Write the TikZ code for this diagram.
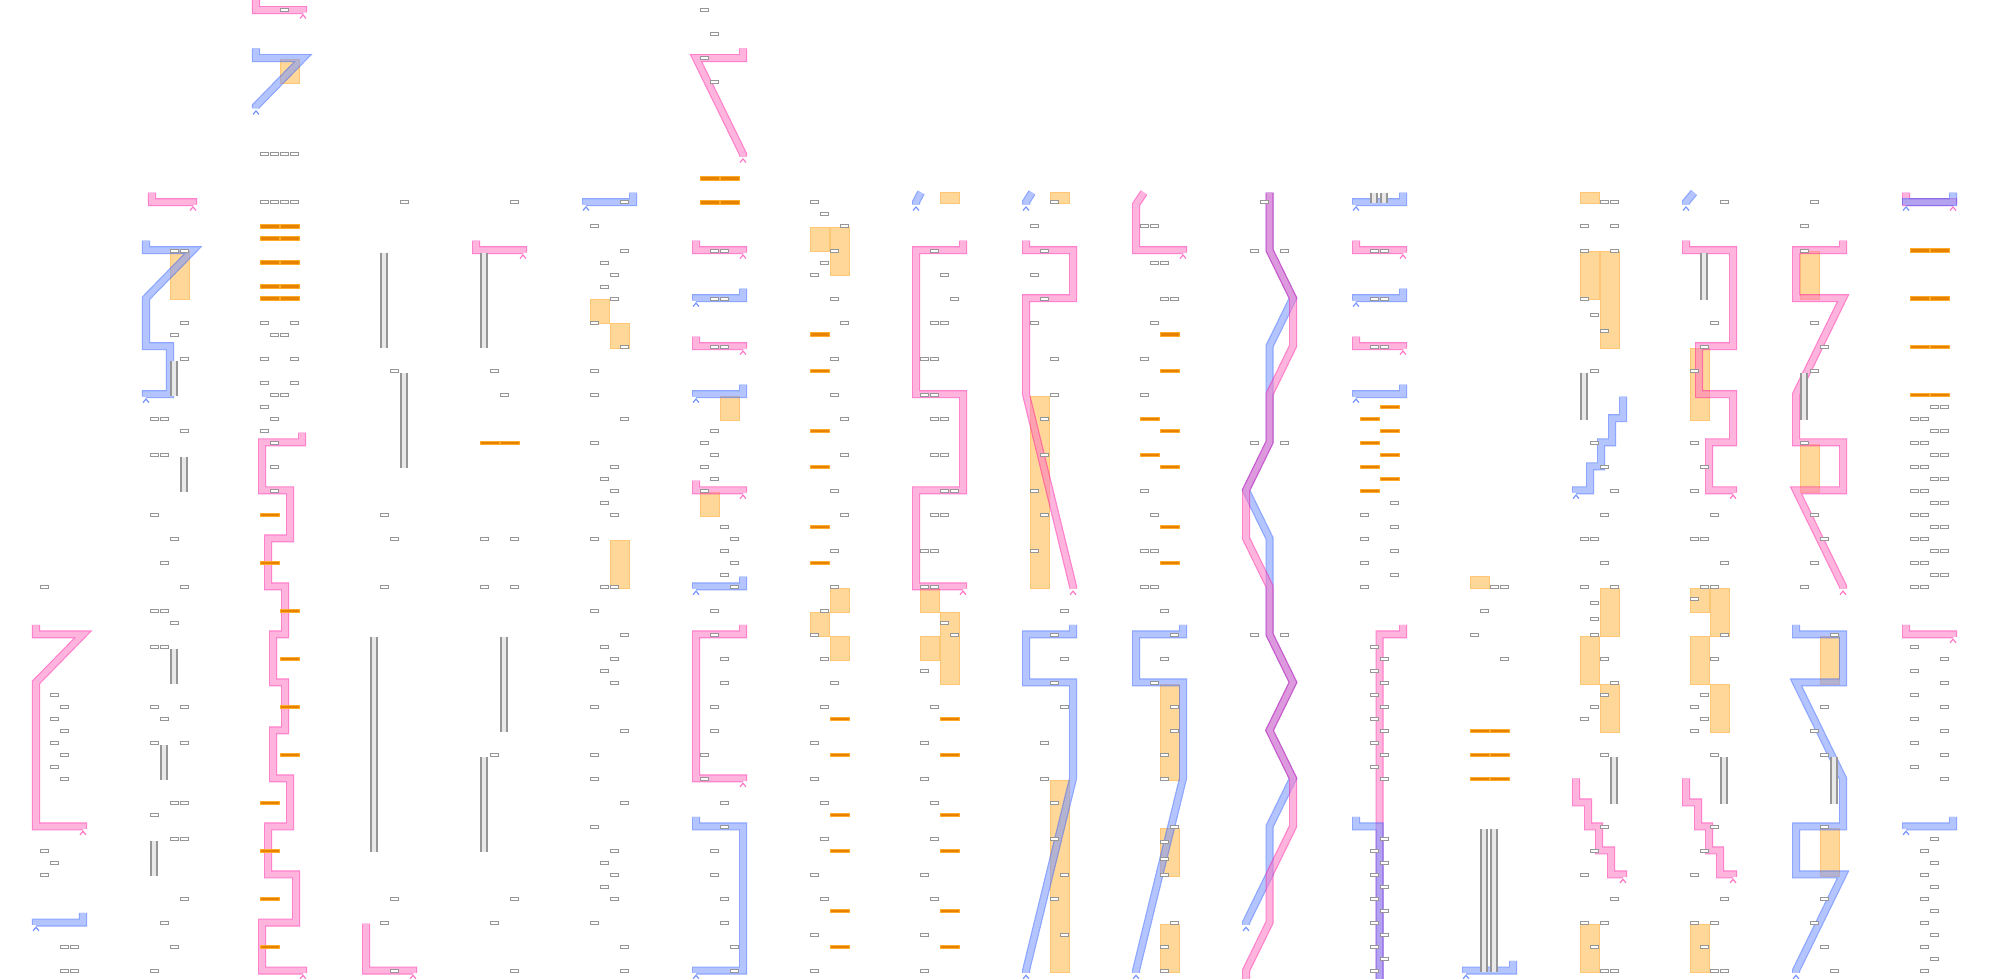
\documentclass[tikz,border=0pt]{standalone}

\definecolor{slotgray}{RGB}{150,150,150}
\definecolor{railgray}{RGB}{150,150,150}
\definecolor{hotfill}{RGB}{232,128,0}
\definecolor{hotedge}{RGB}{255,172,40}
\definecolor{zonefill}{RGB}{255,216,153}
\definecolor{zoneedge}{RGB}{255,198,118}
\definecolor{pinkedgecol}{RGB}{255,24,162}
\definecolor{pinkcorecol}{RGB}{255,119,195}
\definecolor{blueedgecol}{RGB}{46,93,255}
\definecolor{bluecorecol}{RGB}{117,148,255}
\definecolor{pinktipcol}{RGB}{255,120,200}
\definecolor{bluetipcol}{RGB}{120,150,255}

\newcommand{\slot}[2]{\draw[slot] ({8+10*#1},{#2-0.1}) rectangle ++(8.5,0.25);}
\newcommand{\hot}[2]{\draw[hot] ({8+10*#1},{#2-0.1}) rectangle ++(19,0.3);}
\newcommand{\zone}[3]{\draw[zone] ({8+10*#1},{#2+0.15}) rectangle ({27+10*#1},{#3+0.15});}
\newcommand{\rails}[3]{\fill[railfill] ({9+10*#1},{#2+0.2}) rectangle ({15+10*#1},{#3+0.15});
  \draw[rail] ({9+10*#1},{#2+0.2}) -- ({9+10*#1},{#3+0.15}) ({15+10*#1},{#2+0.2}) -- ({15+10*#1},{#3+0.15});}
\newcommand{\route}[2]{\begin{scope}[transparency group, opacity=0.55]
  \draw[#1edge] #2; \draw[#1core] #2; \end{scope}}
\newcommand{\tip}[3]{\draw[#1tip] ({#2-3},{#3+0.7}) -- (#2,{#3+0.4}) -- ({#2+3},{#3+0.7});}

\begin{document}
\begin{tikzpicture}[x=0.01cm, y=-0.12cm,
    slot/.style={draw=slotgray, fill=white, line width=0.09mm},
    hot/.style={draw=hotedge, fill=hotfill, line width=0.1mm},
    zone/.style={draw=zoneedge, fill=zonefill, line width=0.1mm},
    rail/.style={draw=railgray, line width=0.12mm},
    railfill/.style={fill=gray!18},
    pinkedge/.style={draw=pinkedgecol, line width=0.8mm},
    pinkcore/.style={draw=pinkcorecol, line width=0.56mm},
    blueedge/.style={draw=blueedgecol, line width=0.8mm},
    bluecore/.style={draw=bluecorecol, line width=0.56mm},
    pinktip/.style={draw=pinktipcol, line width=0.12mm},
    bluetip/.style={draw=bluetipcol, line width=0.12mm}]

    \useasboundingbox[fill=white] (0,0) rectangle (1990,81.5);
    \clip (0,0) rectangle (1990,81.5);

    \begin{scope}[yshift=-0.1cm]

    \begin{scope}[shift={(32,0)}]
        \route{pink}{(4,51.2) -- (4,52) -- (51,52) -- (4,56) -- (4,68) -- (51,68) -- (51,68.2)}
        \tip{pink}{51}{68}
        \route{blue}{(51,75.2) -- (51,76) -- (4,76) -- (4,76.2)}
        \tip{blue}{4}{76}
        \foreach \s/\k in {0/48,1/57,2/58,1/59,2/60,1/61,2/62,1/63,2/64,0/70,1/71,0/72,2/78,3/78,2/80,3/80} {\slot{\s}{\k}}
    \end{scope}

    \begin{scope}[shift={(142,0)}]
        \zone{2}{20}{24}
        \route{pink}{(10,15.2) -- (10,16) -- (51,16) -- (51,16.2)}
        \tip{pink}{51}{16}
        \route{blue}{(4,19.2) -- (4,20) -- (51,20) -- (4,24) -- (4,28) -- (28,28) -- (28,32) -- (4,32) -- (4,32.2)}
        \tip{blue}{4}{32}
        \rails{2}{29}{32} \rails{3}{37}{40} \rails{2}{53}{56} \rails{1}{61}{64} \rails{0}{69}{72}
        \foreach \s/\k in {2/20,3/20,3/26,2/27,3/29,0/34,1/34,3/35,0/37,1/37,0/42,2/44,1/46,3/48,0/50,1/50,2/51,0/53,1/53,0/58,3/58,1/59,0/61,3/61,2/66,3/66,0/67,2/69,3/69,3/74,1/76,2/78,0/80} {\slot{\s}{\k}}
    \end{scope}

    \begin{scope}[shift={(252,0)}]
        \zone{2}{4}{6}
        \route{pink}{(4,-2) -- (4,0) -- (51,0) -- (51,0.2)}
        \tip{pink}{51}{0}
        \route{blue}{(4,3.2) -- (4,4) -- (51,4) -- (4,8) -- (4,8.2)}
        \tip{blue}{4}{8}
        \route{pink}{(50,35.2) -- (50,36) -- (10,36) -- (10,40) -- (38,40) -- (38,44) -- (16,44) -- (16,48) -- (33,48) -- (33,52) -- (21,52) -- (21,56) -- (33,56) -- (33,60) -- (21,60) -- (21,64) -- (38,64) -- (38,68) -- (16,68) -- (16,72) -- (44,72) -- (44,76) -- (10,76) -- (10,80) -- (51,80) -- (51,80.2)}
        \tip{pink}{51}{80}
        \foreach \s/\k in {2/0,0/12,1/12,2/12,3/12,0/16,1/16,2/16,3/16,0/26,3/26,1/27,2/27,0/29,3/29,0/31,3/31,1/32,2/32,0/33,1/34,0/35,1/36,1/38,1/40} {\slot{\s}{\k}}
        \foreach \k in {18,19,21,23,24} {\hot{0}{\k} \hot{2}{\k}}
        \foreach \s/\k in {0/42,0/46,2/50,2/54,2/58,2/62,0/66,0/70,0/74,0/78} {\hot{\s}{\k}}
    \end{scope}

    \begin{scope}[shift={(362,0)}]
        \route{pink}{(4,76.1) -- (4,80) -- (51,80) -- (51,80.2)}
        \tip{pink}{51}{80}
        \rails{1}{20}{28} \rails{3}{30}{38} \rails{0}{52}{70}
        \foreach \s/\k in {3/16,2/30,1/42,2/44,1/48,2/74,1/76,2/80} {\slot{\s}{\k}}
    \end{scope}

    \begin{scope}[shift={(472,0)}]
        \route{pink}{(4,19.2) -- (4,20) -- (51,20) -- (51,20.2)}
        \tip{pink}{51}{20}
        \rails{0}{20}{28} \rails{2}{52}{60} \rails{0}{62}{70}
        \foreach \s/\k in {3/16,1/30,2/32,0/44,3/44,0/48,3/48,1/62,3/74,1/76,3/80} {\slot{\s}{\k}}
        \hot{0}{36} \hot{2}{36}
    \end{scope}

    \begin{scope}[shift={(582,0)}]
        \zone{0}{24}{26} \zone{2}{26}{28} \zone{2}{44}{48}
        \route{blue}{(51,15.2) -- (51,16) -- (4,16) -- (4,16.2)}
        \tip{blue}{4}{16}
        \foreach \s/\k in {3/16,0/18,3/20,1/21,2/22,1/23,2/24,0/26,3/28,0/30,0/32,3/34,0/36,2/38,1/39,2/40,1/41,2/42,0/44,1/48,2/48,0/50,3/52,1/53,2/54,1/55,2/56,0/58,3/60,0/62,0/64,3/66,0/68,2/70,1/71,2/72,1/73,2/74,0/76,3/78,3/80} {\slot{\s}{\k}}
    \end{scope}

    \begin{scope}[shift={(692,0)}]
        \zone{2}{32}{34} \zone{0}{40}{42}
        \route{pink}{(51,3.2) -- (51,4) -- (4,4) -- (51,12) -- (51,12.2)}
        \tip{pink}{51}{12}
        \route{pink}{(4,19.2) -- (4,20) -- (51,20) -- (51,20.2)}
        \tip{pink}{51}{20}
        \route{blue}{(51,23.2) -- (51,24) -- (4,24) -- (4,24.2)}
        \tip{blue}{4}{24}
        \route{pink}{(4,27.2) -- (4,28) -- (51,28) -- (51,28.2)}
        \tip{pink}{51}{28}
        \route{blue}{(51,31.2) -- (51,32) -- (4,32) -- (4,32.2)}
        \tip{blue}{4}{32}
        \route{pink}{(4,39.2) -- (4,40) -- (51,40) -- (51,40.2)}
        \tip{pink}{51}{40}
        \route{blue}{(51,47.2) -- (51,48) -- (4,48) -- (4,48.2)}
        \tip{blue}{4}{48}
        \route{pink}{(51,51.2) -- (51,52) -- (4,52) -- (4,64) -- (51,64) -- (51,64.2)}
        \tip{pink}{51}{64}
        \route{blue}{(4,67.2) -- (4,68) -- (51,68) -- (51,80) -- (4,80) -- (4,80.2)}
        \tip{blue}{4}{80}
        \foreach \s/\k in {0/0,1/2,0/4,1/6,1/20,2/20,1/24,2/24,1/28,2/28,1/35,0/36,1/37,0/38,1/39,0/40,2/43,3/44,2/45,3/46,2/47,3/48,1/50,1/52,2/54,2/56,1/58,1/60,0/62,0/64,2/66,2/68,1/70,1/72,2/74,2/76,3/78,3/80} {\slot{\s}{\k}}
        \hot{0}{14} \hot{2}{14} \hot{0}{16} \hot{2}{16}
    \end{scope}

    \begin{scope}[shift={(802,0)}]
        \zone{0}{18}{20} \zone{2}{18}{22} \zone{2}{48}{50} \zone{0}{50}{52} \zone{2}{52}{54}
        \foreach \s/\k in {0/16,1/17,3/18,2/20,1/21,0/22,2/24,3/26,2/29,2/32,3/34,3/37,2/40,3/42,2/45,2/48,1/50,0/52,1/54,2/56,1/58,0/61,0/64,1/66,1/69,0/72,1/74,0/77,0/80} {\slot{\s}{\k}}
        \foreach \s/\k in {0/27,0/30,0/35,0/38,0/43,0/46,2/59,2/62,2/67,2/70,2/75,2/78} {\hot{\s}{\k}}
    \end{scope}

    \begin{scope}[shift={(912,0)}]
        \zone{2}{15.05}{16} \zone{0}{48}{50} \zone{2}{50}{56} \zone{0}{52}{54}
        \route{blue}{(9,15.2) -- (4,16) -- (4,16.2)}
        \tip{blue}{4}{16}
        \route{pink}{(51,19.2) -- (51,20) -- (4,20) -- (4,32) -- (51,32) -- (51,40) -- (4,40) -- (4,48) -- (51,48) -- (51,48.2)}
        \tip{pink}{51}{48}
        \foreach \s/\k in {1/20,2/22,3/24,1/26,2/26,0/29,1/29,0/32,1/32,1/34,2/34,1/37,2/37,2/40,3/40,1/42,2/42,0/45,1/45,0/48,1/48,2/51,3/52,0/55,1/58,0/61,0/64,1/66,1/69,0/72,1/74,0/77,0/80} {\slot{\s}{\k}}
        \foreach \k in {59,62,67,70,75,78} {\hot{2}{\k}}
    \end{scope}

    \begin{scope}[shift={(1022,0)}]
        \zone{2}{15.05}{16} \zone{0}{32}{48} \zone{2}{64}{80}
        \route{blue}{(10,15.2) -- (4,16) -- (4,16.2)}
        \tip{blue}{4}{16}
        \route{pink}{(4,19.2) -- (4,20) -- (51,20) -- (51,24) -- (4,24) -- (4,32) -- (51,48) -- (51,48.2)}
        \tip{pink}{51}{48}
        \route{blue}{(51,51.2) -- (51,52) -- (4,52) -- (4,56) -- (51,56) -- (51,64) -- (4,80) -- (4,80.2)}
        \tip{blue}{4}{80}
        \foreach \s/\k in {2/16,0/18,1/20,0/22,1/24,0/26,2/29,2/32,1/34,1/37,0/40,1/42,0/45,3/50,2/52,3/54,2/56,3/58,1/61,1/64,2/66,2/69,3/72,2/74,3/77} {\slot{\s}{\k}}
    \end{scope}

    \begin{scope}[shift={(1132,0)}]
        \zone{2}{56}{64} \zone{2}{68}{72} \zone{2}{76}{80}
        \route{pink}{(12,15.2) -- (4,16.2) -- (4,20) -- (51,20) -- (51,20.2)}
        \tip{pink}{51}{20}
        \route{blue}{(51,51.2) -- (51,52) -- (4,52) -- (4,56) -- (51,56) -- (51,64) -- (4,80) -- (4,80.2)}
        \tip{blue}{4}{80}
        \foreach \s/\k in {0/18,1/18,1/21,2/21,2/24,3/24,1/26,0/29,0/32,0/40,1/42,0/45,1/45,0/48,1/48,2/50,3/52,2/54,1/56,3/58,3/60,2/62,2/64,3/68,2/69.3,2/70.7,2/72,3/76,2/78,2/80} {\slot{\s}{\k}}
        \foreach \s/\k in {2/27,2/30,0/34,2/35,0/37,2/38,2/43,2/46} {\hot{\s}{\k}}
    \end{scope}

    \begin{scope}[shift={(1242,0)}]
        \route{blue}{(27.5,15.2) -- (27.5,20) -- (51,24) -- (27.5,28) -- (27.5,36) -- (4,40) -- (27.5,44) -- (27.5,52) -- (51,56) -- (27.5,60) -- (51,64) -- (27.5,68) -- (27.5,72) -- (4,76) -- (4,76.2)}
        \tip{blue}{4}{76}
        \route{pink}{(27.5,15.2) -- (27.5,20) -- (51,24) -- (51,28) -- (27.5,32) -- (27.5,36) -- (4,40) -- (4,44) -- (27.5,48) -- (27.5,52) -- (51,56) -- (27.5,60) -- (51,64) -- (51,68) -- (27.5,72) -- (27.5,76) -- (4,80) -- (4,82)}
        \foreach \s/\k in {1/16,0/20,3/20,0/36,3/36,0/52,3/52} {\slot{\s}{\k}}
    \end{scope}

    \begin{scope}[shift={(1352,0)}]
        \route{blue}{(51,15.2) -- (51,16) -- (4,16) -- (4,16.2)}
        \tip{blue}{4}{16}
        \route{pink}{(4,19.2) -- (4,20) -- (51,20) -- (51,20.2)}
        \tip{pink}{51}{20}
        \route{blue}{(51,23.2) -- (51,24) -- (4,24) -- (4,24.2)}
        \tip{blue}{4}{24}
        \route{pink}{(4,27.2) -- (4,28) -- (51,28) -- (51,28.2)}
        \tip{pink}{51}{28}
        \route{blue}{(51,31.2) -- (51,32) -- (4,32) -- (4,32.2)}
        \tip{blue}{4}{32}
        \route{pink}{(51,51.2) -- (51,52) -- (27.5,52) -- (27.5,82)}
        \route{blue}{(4,67.2) -- (4,68) -- (27.5,68) -- (27.5,82)}
        \rails{1}{15}{15.9} \rails{2}{15}{15.9}
        \foreach \s/\k in {1/20,2/20,1/24,2/24,1/28,2/28,3/41,0/42,3/43,0/44,3/45,0/46,3/47,0/48} {\slot{\s}{\k}}
        \foreach \k in {53,55,...,63,70,72,...,80} {\slot{1}{\k}}
        \foreach \k in {54,56,...,64,69,71,...,79} {\slot{2}{\k}}
        \foreach \s/\k in {2/33,0/34,2/35,0/36,2/37,0/38,2/39,0/40} {\hot{\s}{\k}}
    \end{scope}

    \begin{scope}[shift={(1462,0)}]
        \zone{0}{47.05}{48}
        \route{blue}{(51,79.2) -- (51,80) -- (4,80) -- (4,80.2)}
        \tip{blue}{4}{80}
        \rails{1}{68}{80} \rails{2}{68}{80}
        \foreach \s/\k in {2/48,3/48,1/50,0/52,3/54} {\slot{\s}{\k}}
        \foreach \k in {60,62,64} {\hot{0}{\k} \hot{2}{\k}}
    \end{scope}

    \begin{scope}[shift={(1572,0)}]
        \zone{0}{15.05}{16} \zone{0}{20}{24} \zone{2}{20}{28} \zone{2}{48}{52} \zone{0}{52}{56} \zone{2}{56}{60} \zone{0}{76}{80}
        \route{blue}{(51,32.2) -- (51,34) -- (40,34) -- (40,36) -- (29,36) -- (29,38) -- (18,38) -- (18,40) -- (4,40) -- (4,40.2)}
        \tip{blue}{4}{40}
        \route{pink}{(4,64) -- (4,66) -- (16,66) -- (16,68) -- (27,68) -- (27,70) -- (39,70) -- (39,72) -- (51,72) -- (51,72.2)}
        \tip{pink}{51}{72}
        \rails{0}{30}{34} \rails{3}{62}{66}
        \foreach \s/\k in {2/16,3/16,0/18,3/18,0/20,3/20,0/24,1/25.4,2/26.7,1/30,1/36,2/38,3/40,2/42,0/44,1/44,2/46,0/48,3/48,1/49.4,1/50.7,1/52,2/54,3/56,2/57,1/58,0/59,2/62,2/68,1/70,0/72,3/74,0/76,2/76,1/78,2/80,3/80} {\slot{\s}{\k}}
    \end{scope}

    \begin{scope}[shift={(1682,0)}]
        \zone{0}{28}{34} \zone{0}{48}{50} \zone{2}{48}{52} \zone{0}{52}{56} \zone{2}{56}{60} \zone{0}{76}{80}
        \route{blue}{(12,15.2) -- (4,16) -- (4,16.2)}
        \tip{blue}{4}{16}
        \route{pink}{(4,19.2) -- (4,20) -- (51,20) -- (51,28) -- (17,28) -- (17,32) -- (51,32) -- (51,36) -- (27,36) -- (27,40) -- (51,40) -- (51,40.2)}
        \tip{pink}{51}{40}
        \route{pink}{(4,64) -- (4,66) -- (16,66) -- (16,68) -- (27,68) -- (27,70) -- (38,70) -- (38,72) -- (51,72) -- (51,72.2)}
        \tip{pink}{51}{72}
        \rails{1}{20}{24} \rails{3}{62}{66}
        \foreach \s/\k in {3/16,2/26,1/28,0/30,0/36,1/38,0/40,2/42,0/44,1/44,3/46,1/48,2/48,0/49,3/52,2/54,1/57,0/58,1/59,0/60,2/62,2/68,1/70,0/72,3/74,0/76,2/76,1/78,2/80,3/80} {\slot{\s}{\k}}
    \end{scope}

    \begin{scope}[shift={(1792,0)}]
        \zone{0}{20}{24} \zone{0}{36}{40} \zone{2}{52}{56} \zone{2}{68}{72}
        \route{pink}{(51,19.2) -- (51,20) -- (4,20) -- (4,24) -- (51,24) -- (4,32) -- (4,36) -- (51,36) -- (51,40) -- (4,40) -- (51,48) -- (51,48.2)}
        \tip{pink}{51}{48}
        \route{blue}{(4,51.2) -- (4,52) -- (51,52) -- (51,56) -- (4,56) -- (51,64) -- (51,68) -- (4,68) -- (4,72) -- (51,72) -- (4,80) -- (4,80.2)}
        \tip{blue}{4}{80}
        \rails{0}{30}{34} \rails{3}{62}{66}
        \foreach \s/\k in {1/16,0/18,0/20,1/26,2/28,1/30,0/36,1/42,2/44,1/46,0/48,3/52,2/58,1/60,2/62,2/68,2/74,1/76,2/78,3/80} {\slot{\s}{\k}}
    \end{scope}

    \begin{scope}[shift={(1902,0)}]
        \route{pink}{(4,15.2) -- (4,16) -- (51,16) -- (51,16.2)}
        \route{blue}{(51,15.2) -- (51,16) -- (4,16) -- (4,16.2)}
        \tip{pink}{51}{16}
        \tip{blue}{4}{16}
        \route{pink}{(4,51.2) -- (4,52) -- (51,52) -- (51,52.2)}
        \tip{pink}{51}{52}
        \route{blue}{(51,67.2) -- (51,68) -- (4,68) -- (4,68.2)}
        \tip{blue}{4}{68}
        \foreach \k in {20,24,28,32} {\hot{0}{\k} \hot{2}{\k}}
        \foreach \k in {33,35,...,47} {\slot{2}{\k} \slot{3}{\k}}
        \foreach \k in {34,36,...,48} {\slot{0}{\k} \slot{1}{\k}}
        \foreach \k in {53,55,...,63} {\slot{0}{\k}}
        \foreach \k in {54,56,...,64} {\slot{3}{\k}}
        \foreach \k in {69,71,...,79} {\slot{2}{\k}}
        \foreach \k in {70,72,...,80} {\slot{1}{\k}}
    \end{scope}

    \end{scope}

\end{tikzpicture}
\end{document}
